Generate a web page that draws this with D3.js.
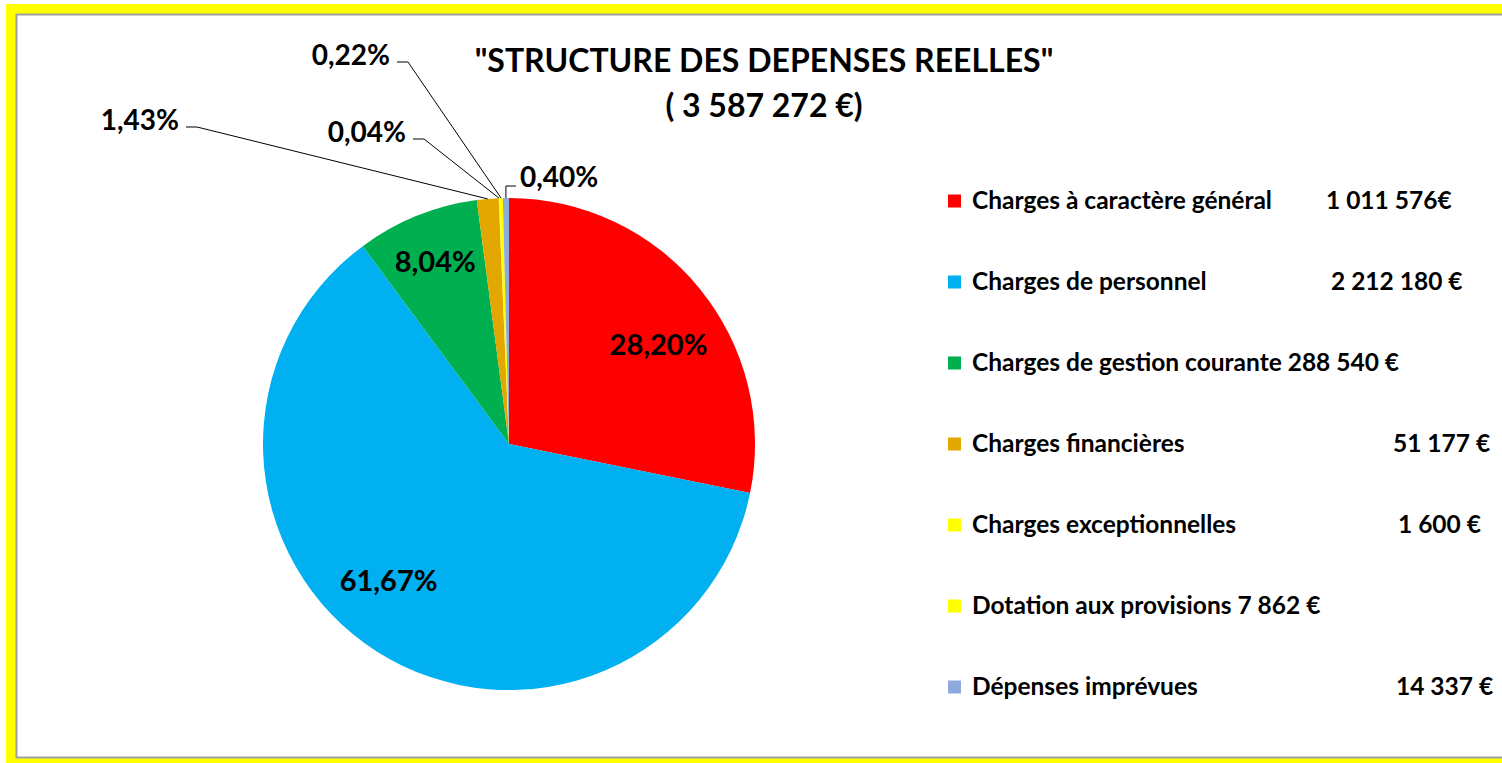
<!DOCTYPE html>
<html>
<head>
<meta charset="utf-8">
<script src="https://cdn.jsdelivr.net/npm/d3@7"></script>
<style>
  html, body { margin: 0; padding: 0; background: #fff; overflow: hidden; }
  text { font-family: Lato, "Open Sans", sans-serif; font-weight: bold; fill: #000; }
</style>
</head>
<body>
<div id="chart-container"></div>
<script>
// Chart data
const categories = [
  "Charges à caractère général",
  "Charges de personnel",
  "Charges de gestion courante",
  "Charges financières",
  "Charges exceptionnelles",
  "Dotation aux provisions",
  "Dépenses imprévues"
];
const amounts = [1011576, 2212180, 288540, 51177, 1600, 7862, 14337];
const sliceColors = ["#FF0000", "#00B0F0", "#00B050", "#E2A700", "#FFFF00", "#FFFF00", "#8EA9DB"];
// how each amount is written in the legend (some inline, some pushed right)
const amountTexts = ["1 011 576€", "2 212 180 €", "288 540 €", "51 177 €", "1 600 €", "7 862 €", "14 337 €"];
const titleLines = ["\"STRUCTURE DES DEPENSES REELLES\""];

/**************************************************
 * Layout
 **************************************************/
const W = 1502, H = 763;
const cx = 509, cy = 444, R = 246;

// value column x (null = right after the label)
const valueX = [1326, 1331, null, 1393, 1398, null, 1396];

// label placement for each slice: inside (radius factor, angle nudge in deg)
// or outside (text anchor offset from centre, elbow)
const labelLayout = [
  { inside: true, k: 0.73, nudge: 5.6 },
  { inside: true, k: 0.74, nudge: 8.9 },
  { inside: true, k: 0.80, nudge: 0 },
  { inside: false, side: "left", tx: -330, ly: -317 },
  { inside: false, side: "left", tx: -103, ly: -305 },
  { inside: false, side: "left", tx: -119, ly: -382 },
  { inside: false, side: "right", tx: 11, ly: -258 }
];

const total = d3.sum(amounts);
const frNum = d3.formatLocale({ decimal: ",", thousands: " ", grouping: [3], currency: ["", " €"] });
const pct = v => frNum.format(".2f")(v / total * 100) + "%";

const svg = d3.select("#chart-container")
  .append("svg")
  .attr("width", W)
  .attr("height", H);

// yellow frame + white plot area
svg.append("rect")
  .attr("x", 6).attr("y", 4)
  .attr("width", W + 20).attr("height", H + 20)
  .attr("fill", "#FFFF00");
svg.append("rect")
  .attr("x", 16.5).attr("y", 14.5)
  .attr("width", W + 20).attr("height", 743)
  .attr("fill", "#fff")
  .attr("stroke", "#A0A0A0")
  .attr("stroke-width", 2);

// title
svg.append("text")
  .attr("x", 764).attr("y", 72)
  .attr("text-anchor", "middle")
  .attr("font-size", 32)
  .text(titleLines[0]);
svg.append("text")
  .attr("x", 764).attr("y", 117)
  .attr("text-anchor", "middle")
  .attr("font-size", 32)
  .text("( " + frNum.format(",")(total) + " €)");

// pie
const pie = d3.pie().sort(null).value(d => d)(amounts);
const arc = d3.arc().innerRadius(0).outerRadius(R);

const g = svg.append("g").attr("transform", `translate(${cx},${cy})`);

g.selectAll("path.slice")
  .data(pie)
  .enter()
  .append("path")
  .attr("class", "slice")
  .attr("d", arc)
  .attr("fill", (d, i) => sliceColors[i]);

// labels
pie.forEach((d, i) => {
  const L = labelLayout[i];
  const mid = (d.startAngle + d.endAngle) / 2;
  if (L.inside) {
    const a = mid + L.nudge * Math.PI / 180;
    const r = R * L.k;
    g.append("text")
      .attr("x", r * Math.sin(a))
      .attr("y", -r * Math.cos(a))
      .attr("dy", "0.36em")
      .attr("text-anchor", "middle")
      .attr("font-size", 29)
      .text(pct(d.value));
  } else {
    const px = R * Math.sin(mid), py = -R * Math.cos(mid);
    let pts;
    if (L.side === "left") {
      pts = [[px, py], [L.tx + 18, L.ly], [L.tx + 7, L.ly]];
      g.append("text")
        .attr("x", L.tx).attr("y", L.ly + 3)
        .attr("text-anchor", "end")
        .attr("font-size", 28)
        .text(pct(d.value));
    } else {
      pts = [[px, py], [px, L.ly], [px + 10, L.ly]];
      g.append("text")
        .attr("x", L.tx).attr("y", L.ly + 1)
        .attr("text-anchor", "start")
        .attr("font-size", 28)
        .text(pct(d.value));
    }
    g.append("path")
      .attr("d", d3.line()(pts))
      .attr("fill", "none")
      .attr("stroke", "#000")
      .attr("stroke-width", 1);
  }
});

// legend
const legY = d3.scalePoint().domain(d3.range(categories.length)).range([201, 687]);
const leg = svg.selectAll(".leg")
  .data(categories)
  .enter()
  .append("g")
  .attr("class", "leg")
  .attr("transform", (d, i) => `translate(948,${legY(i)})`);

leg.append("rect")
  .attr("x", 0).attr("y", -6.5)
  .attr("width", 13).attr("height", 13)
  .attr("fill", (d, i) => sliceColors[i]);

leg.each(function(d, i) {
  const row = d3.select(this);
  const t = row.append("text")
    .attr("x", 24).attr("y", 8)
    .attr("font-size", 24.5);
  t.append("tspan").text(d);
  if (valueX[i] === null) {
    t.append("tspan").text(" " + amountTexts[i]);
  } else {
    row.append("text")
      .attr("x", valueX[i] - 948).attr("y", 8)
      .attr("font-size", 24.5)
      .text(amountTexts[i]);
  }
});
</script>
</body>
</html>
